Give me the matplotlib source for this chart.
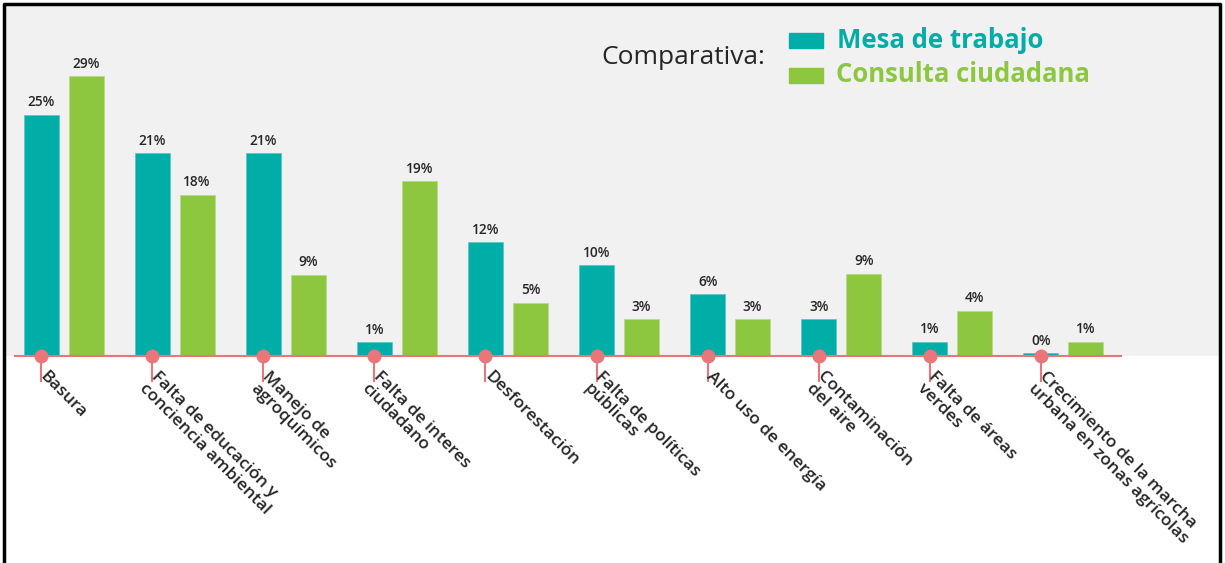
import numpy as np
import matplotlib
matplotlib.use('Agg')
import matplotlib.pyplot as plt
from matplotlib.patches import Rectangle
from matplotlib.lines import Line2D

categories = ['Basura',
              'Falta de educación y\nconciencia ambiental',
              'Manejo de\nagroquímicos',
              'Falta de interes\nciudadano',
              'Desforestación',
              'Falta de políticas\npúblicas',
              'Alto uso de energía',
              'Contaminación\ndel aire',
              'Falta de áreas\nverdes',
              'Crecimiento de la marcha\nurbana en zonas agrícolas']
mesa = [25, 21, 21, 1.4, 11.8, 9.4, 6.4, 3.8, 1.5, 0.3]
consulta = [29, 16.7, 8.4, 18.1, 5.5, 3.8, 3.8, 8.5, 4.7, 1.5]
mesa_lbl = ['25%', '21%', '21%', '1%', '12%', '10%', '6%', '3%', '1%', '0%']
consulta_lbl = ['29%', '18%', '9%', '19%', '5%', '3%', '3%', '9%', '4%', '1%']

TEAL = '#00ADA7'
GREEN = '#8DC63F'
RED = '#E8767B'
GRAY = '#F1F1F1'
DARK = '#262626'

plt.rcParams['font.family'] = ['Open Sans', 'DejaVu Sans']

W, H = 1225, 563
fig = plt.figure(figsize=(W / 100, H / 100), dpi=100)
fig.patch.set_facecolor('white')

# axes placed in pixel terms: gray area from top border down to the baseline
left_px, right_px, top_px, base_px = 5, 1219, 4, 356
ax = fig.add_axes([left_px / W, (H - base_px) / H,
                   (right_px - left_px) / W, (base_px - top_px) / H])
ax.set_facecolor(GRAY)
step = 111.1
ax.set_xlim((left_px - 41) / step, (right_px - 41) / step)
ax.set_ylim(0, (base_px - top_px) / 9.65)
for s in ax.spines.values():
    s.set_visible(False)
ax.set_xticks([])
ax.set_yticks([])

x = np.arange(len(categories))
bw = 35 / step
off = 45 / step
ax.bar(x, mesa, width=bw, color=TEAL, edgecolor='#5CC9C4', linewidth=0.6, zorder=2)
ax.bar(x + off, consulta, width=bw, color=GREEN, edgecolor='#B5DA85', linewidth=0.6, zorder=2)

for xi, v, t in zip(x, mesa, mesa_lbl):
    ax.annotate(t, (xi, v), xytext=(0, 4), textcoords='offset points',
                ha='center', va='bottom', fontsize=9.8, fontweight='semibold', color=DARK)
for xi, v, t in zip(x + off, consulta, consulta_lbl):
    ax.annotate(t, (xi, v), xytext=(0, 4), textcoords='offset points',
                ha='center', va='bottom', fontsize=9.8, fontweight='semibold', color=DARK)

# red baseline with dots, ticks and rotated labels
ax.plot([(15 - 41) / step, (1121 - 41) / step], [0, 0], color=RED, lw=1.5,
        clip_on=False, zorder=3)
ax.plot(x, np.zeros(len(x)), 'o', color=RED, ms=9, clip_on=False, zorder=4)
ax.vlines(x, -26 / 9.65, 0, color=RED, lw=1.5, clip_on=False, zorder=3)
for xi, c in zip(x, categories):
    ax.text(xi + 7 / step, -13 / 9.65, c, rotation=-45, rotation_mode='anchor',
            ha='left', va='top', fontsize=12.5, fontweight='semibold',
            color=DARK, linespacing=1.0, clip_on=False)

# legend
fig.text(765 / W, 1 - 58 / H, 'Comparativa:', ha='right', va='center',
         fontsize=19, color=DARK)
fig.patches.append(Rectangle((789 / W, 1 - 48 / H), 34 / W, 15 / H,
                             transform=fig.transFigure, color=TEAL))
fig.patches.append(Rectangle((789 / W, 1 - 83 / H), 34 / W, 15 / H,
                             transform=fig.transFigure, color=GREEN))
fig.text(837 / W, 1 - 40 / H, 'Mesa de trabajo', ha='left', va='center',
         fontsize=18.5, color=TEAL, fontweight='bold')
fig.text(836 / W, 1 - 75 / H, 'Consulta ciudadana', ha='left', va='center',
         fontsize=18.5, color=GREEN, fontweight='bold')

# black frame (no bottom edge)
fig.lines.append(Line2D([4 / W, 4 / W, 1220 / W, 1220 / W],
                        [0, 1 - 4 / H, 1 - 4 / H, 0],
                        transform=fig.transFigure, color='black', lw=2.5))

fig.savefig('out.png', dpi=100)
